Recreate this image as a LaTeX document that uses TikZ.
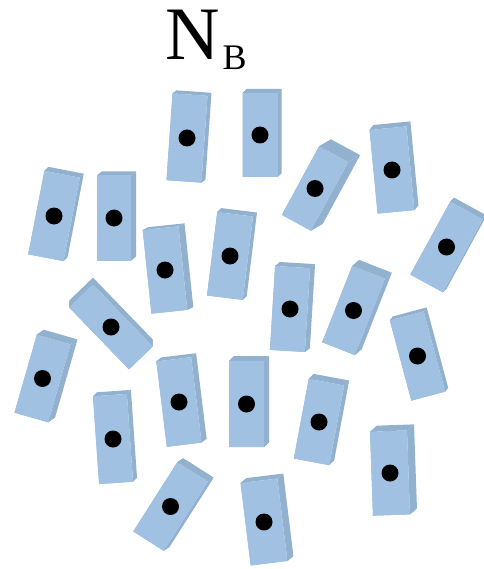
\documentclass[tikz,border=0pt]{standalone}
\usepackage{fontspec}
\setmainfont{Liberation Serif}
\usetikzlibrary{calc}
\definecolor{frontblue}{HTML}{A0C1E1}
\definecolor{sideblue}{HTML}{92B1CF}
\tikzset{
  blockfront/.style={fill=frontblue},
  blockside/.style={fill=sideblue},
  blockdot/.style={fill=black}
}
% name, cx, cy, angle, width, height, dx, dy
\newcommand\drawblock[8]{%
  \begin{scope}[shift={(#2,#3)},rotate=#4]
    \coordinate (#1) at (0,0);
    \coordinate (#1-p) at ({-#5/2},{-#6/2});
    \coordinate (#1-q) at ({#5/2},{-#6/2});
    \coordinate (#1-r) at ({#5/2},{#6/2});
    \coordinate (#1-s) at ({-#5/2},{#6/2});
  \end{scope}
  \fill[blockside] (#1-p) -- (#1-q) -- ($(#1-q)+(#7,#8)$) -- ($(#1-p)+(#7,#8)$) -- cycle;
  \fill[blockside] (#1-q) -- (#1-r) -- ($(#1-r)+(#7,#8)$) -- ($(#1-q)+(#7,#8)$) -- cycle;
  \fill[blockside] (#1-r) -- (#1-s) -- ($(#1-s)+(#7,#8)$) -- ($(#1-r)+(#7,#8)$) -- cycle;
  \fill[blockside] (#1-s) -- (#1-p) -- ($(#1-p)+(#7,#8)$) -- ($(#1-s)+(#7,#8)$) -- cycle;
  \fill[blockfront] (#1-p) -- (#1-q) -- (#1-r) -- (#1-s) -- cycle;
  \fill[blockdot] (#1) circle (8.5pt);
}
\begin{document}
\begin{tikzpicture}[x=1pt,y=-1pt]
\useasboundingbox (0,0) rectangle (483,569);
\node[anchor=base west,inner sep=0pt] (titleN) at (165.7,60) {\fontsize{75.5}{80}\selectfont N};
\node[anchor=base west,inner sep=0pt] (titleB) at (222.4,70) {\fontsize{36}{40}\selectfont B};
\drawblock{b1}{187}{138}{-4}{35}{87}{4}{-3}
\drawblock{b2}{260}{135}{0}{35}{84}{4}{-4}
\drawblock{b3}{315}{188.5}{-28.5}{33}{78}{12}{-7}
\drawblock{b4}{392}{170}{5.5}{37}{84}{4}{-5}
\drawblock{b5}{446.5}{247}{-28.7}{37}{83}{4}{-4}
\drawblock{b6}{54}{216}{-11}{36}{85}{4}{-4}
\drawblock{b7}{114}{218}{0}{34}{85}{5}{-4}
\drawblock{b8}{165}{270}{6}{36}{84}{6}{-3}
\drawblock{b9}{230}{256}{-7}{36}{84}{4}{-4}
\drawblock{b10}{290}{309}{-3.5}{35}{84}{5}{-4}
\drawblock{b11}{353.5}{310.5}{-21.5}{35}{82}{7}{-6}
\drawblock{b12}{111}{327}{44}{33}{86}{0}{-7}
\drawblock{b13}{417.5}{356}{15}{35}{83}{3}{-4}
\drawblock{b14}{42.5}{378.5}{-16}{35}{81}{7}{-5}
\drawblock{b15}{113}{439}{4}{34}{88}{4}{-4}
\drawblock{b16}{179}{402}{7}{35}{86}{5}{-4}
\drawblock{b17}{246.5}{404}{0}{35}{86}{5}{-5}
\drawblock{b18}{319}{422}{-10.6}{36}{81}{5}{-5}
\drawblock{b19}{390}{473}{2}{37}{84}{7}{-6}
\drawblock{b20}{170.5}{506.5}{-32.5}{36}{82}{6}{-4}
\drawblock{b21}{264}{522}{7}{37}{83}{6}{-5}
\end{tikzpicture}
\end{document}
